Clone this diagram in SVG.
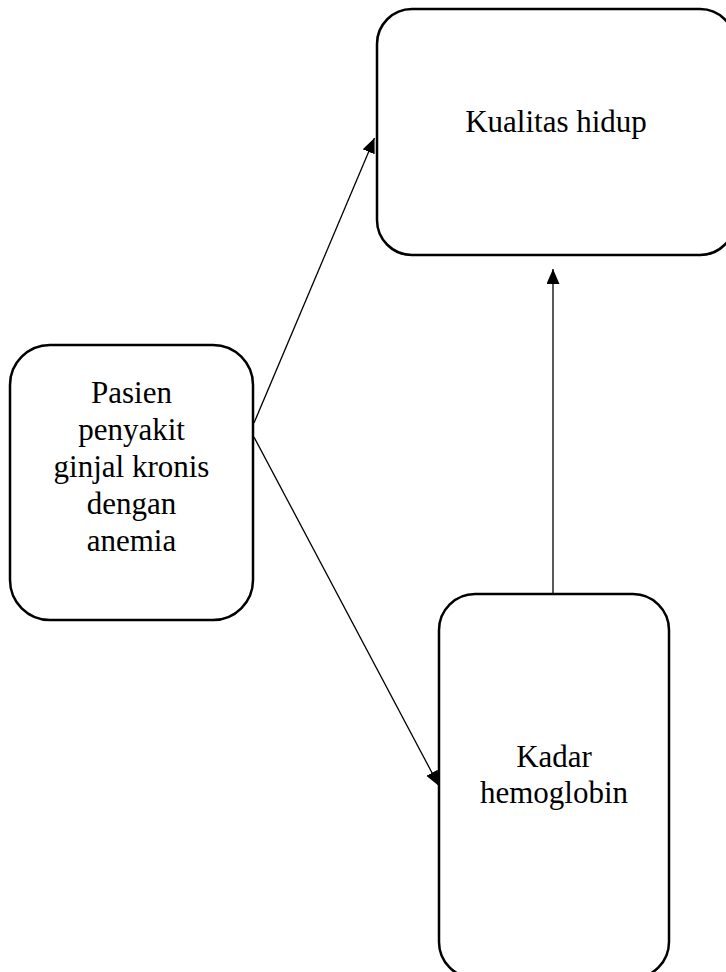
<svg xmlns="http://www.w3.org/2000/svg" width="726" height="972" viewBox="0 0 726 972">
<style>
.box{fill:#fff;stroke:#000;stroke-width:2.5}
.lbl{font-family:"Liberation Serif","Times New Roman",serif;font-size:31px;fill:#000;text-anchor:middle}
.con{stroke:#000;stroke-width:1.3;fill:none;marker-end:url(#ah)}
</style>
<defs>
<marker id="ah" markerUnits="userSpaceOnUse" markerWidth="16" markerHeight="14" refX="15" refY="6.5" orient="auto">
<path d="M0,0 L15,6.5 L0,13 z" fill="#000"/>
</marker>
</defs>
<rect width="726" height="972" fill="#fff"/>
<g id="connectors">
<line class="con" x1="254" y1="423" x2="374.5" y2="138"/>
<line class="con" x1="254" y1="437" x2="439" y2="786"/>
<line class="con" x1="553" y1="594" x2="553" y2="269"/>
</g>
<g id="kualitas">
<rect class="box" x="377" y="9" width="358" height="246" rx="35" ry="35"/>
<text class="lbl" x="556" y="132">Kualitas hidup</text>
</g>
<g id="pasien">
<rect class="box" x="10" y="345" width="243" height="275" rx="40" ry="40"/>
<text class="lbl" x="131.5" y="403">Pasien</text>
<text class="lbl" x="131.5" y="440">penyakit</text>
<text class="lbl" x="131.5" y="477">ginjal kronis</text>
<text class="lbl" x="131.5" y="514">dengan</text>
<text class="lbl" x="131.5" y="551">anemia</text>
</g>
<g id="kadar">
<rect class="box" x="439" y="594" width="230" height="384" rx="36" ry="36"/>
<text class="lbl" x="554" y="767">Kadar</text>
<text class="lbl" x="554" y="803">hemoglobin</text>
</g>
</svg>
